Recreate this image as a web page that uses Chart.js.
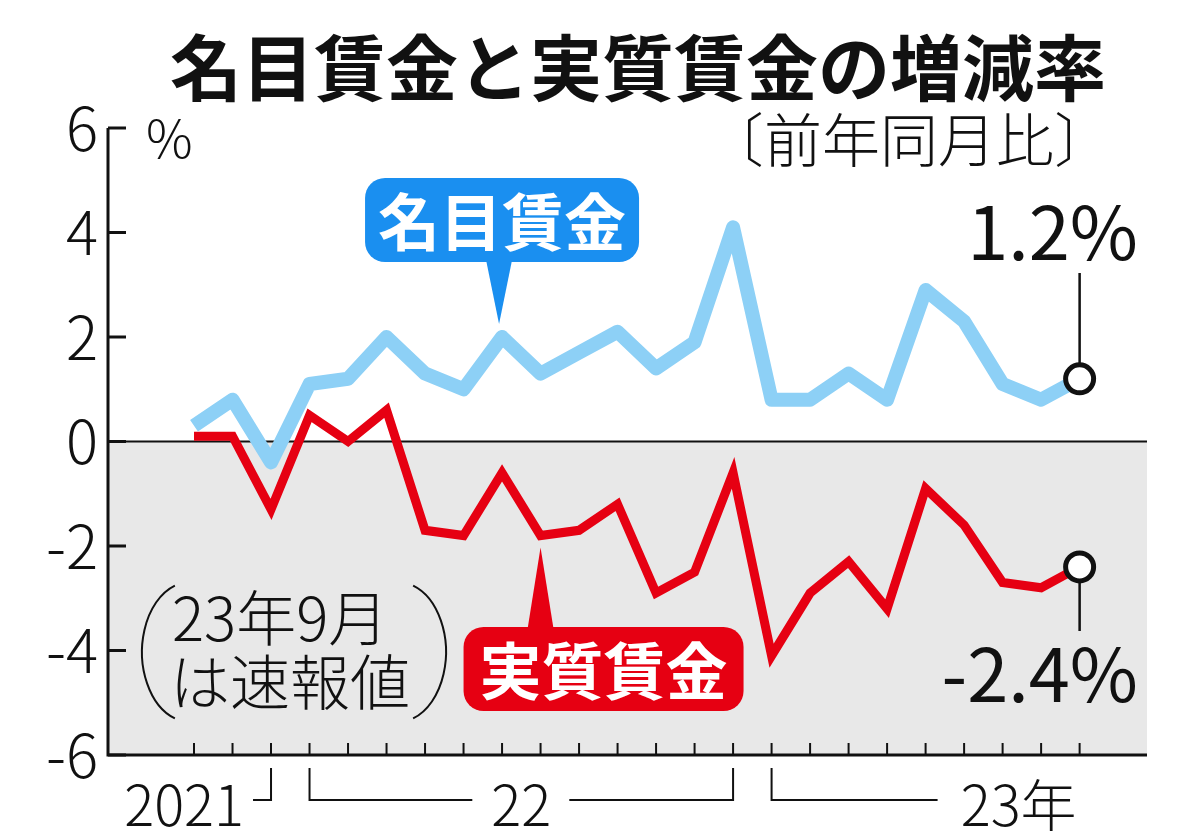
<!DOCTYPE html>
<html lang="ja">
<head>
<meta charset="utf-8">
<title>名目賃金と実質賃金の増減率</title>
<script src="https://cdn.jsdelivr.net/npm/chart.js@4.4.0/dist/chart.umd.min.js"></script>
<style>
  html, body { margin: 0; padding: 0; background: #fff; }
  #wrap { width: 1200px; height: 840px; position: relative; }
</style>
</head>
<body>
<div id="wrap"><canvas id="wageChart" width="1200" height="840"></canvas></div>
<script>
const months = ['2021/10', '2021/11', '2021/12',
  '2022/1', '2022/2', '2022/3', '2022/4', '2022/5', '2022/6', '2022/7', '2022/8', '2022/9', '2022/10', '2022/11', '2022/12',
  '2023/1', '2023/2', '2023/3', '2023/4', '2023/5', '2023/6', '2023/7', '2023/8', '2023/9'];
const nominal = [0.3, 0.8, -0.4, 1.1, 1.2, 2.0, 1.3, 1.0, 2.0, 1.3, 1.7, 2.1, 1.4, 1.9, 4.1, 0.8, 0.8, 1.3, 0.8, 2.9, 2.3, 1.1, 0.8, 1.2];
const real = [0.1, 0.1, -1.3, 0.5, 0.0, 0.6, -1.7, -1.8, -0.6, -1.8, -1.7, -1.2, -2.9, -2.5, -0.6, -4.1, -2.9, -2.3, -3.2, -0.9, -1.6, -2.7, -2.8, -2.4];
const yTicks = [6, 4, 2, 0, -2, -4, -6];
const yearLabels = ['2021', '22', '23年'];
const yearStart = [0, 3, 15];
const yearEnd = [2, 14, 23];

const JP = '"Noto Sans CJK JP", "Noto Sans", sans-serif';
const BLUE_LINE = '#8dd0f6';
const BLUE_BOX = '#1a8ff0';
const RED = '#e60012';
const last = months.length - 1;

// 吹き出し(角丸ボックス＋三角)
function bubble(ctx, x, y, w, h, r, color, tipX, tipY, baseX, text) {
  ctx.save();
  ctx.fillStyle = color;
  ctx.beginPath();
  ctx.roundRect(x, y, w, h, r);
  ctx.fill();
  const baseY = tipY < y ? y + 2 : y + h - 2;
  ctx.beginPath();
  ctx.moveTo(baseX - 13, baseY);
  ctx.lineTo(tipX, tipY);
  ctx.lineTo(baseX + 13, baseY);
  ctx.closePath();
  ctx.fill();
  ctx.fillStyle = '#fff';
  ctx.font = 'bold 62px ' + JP;
  ctx.textAlign = 'center';
  ctx.textBaseline = 'middle';
  ctx.fillText(text, x + w / 2, y + h / 2 + 2);
  ctx.restore();
}

const backdrop = {
  id: 'backdrop',
  beforeDatasetsDraw(chart) {
    const { ctx, chartArea: a, scales: { x, y } } = chart;
    const y0 = y.getPixelForValue(0);
    ctx.save();
    // マイナス側の灰色
    ctx.fillStyle = '#e8e8e8';
    ctx.fillRect(a.left, y0, a.right - a.left, a.bottom - y0);

    ctx.strokeStyle = '#111';
    ctx.lineWidth = 2;
    ctx.beginPath();
    ctx.moveTo(a.left, y0);
    ctx.lineTo(a.right, y0);
    ctx.stroke();

    // 軸
    ctx.lineWidth = 3;
    ctx.beginPath();
    ctx.moveTo(a.left, a.top);
    ctx.lineTo(a.left, a.bottom);
    ctx.lineTo(a.right, a.bottom);
    ctx.stroke();

    ctx.font = '300 60px ' + JP;
    ctx.fillStyle = '#111';
    ctx.textAlign = 'right';
    ctx.textBaseline = 'middle';
    yTicks.forEach(t => {
      const py = y.getPixelForValue(t);
      ctx.beginPath();
      ctx.moveTo(a.left, py);
      ctx.lineTo(a.left + 18, py);
      ctx.stroke();
      ctx.fillText(String(t), a.left - 10, py);
    });
    ctx.textAlign = 'left';
    ctx.font = '300 52px ' + JP;
    ctx.fillText('%', a.left + 38, a.top + 10);

    // 月目盛り
    ctx.lineWidth = 2;
    months.forEach((m, i) => {
      const px = x.getPixelForValue(i);
      ctx.beginPath();
      ctx.moveTo(px, a.bottom);
      ctx.lineTo(px, a.bottom - 12);
      ctx.stroke();
    });

    // 年の括り
    const by = a.bottom + 45, ty = a.bottom + 13;
    ctx.font = '300 56px ' + JP;
    ctx.textBaseline = 'middle';
    const x0e = x.getPixelForValue(yearEnd[0]);
    ctx.beginPath();
    ctx.moveTo(x0e, ty); ctx.lineTo(x0e, by); ctx.lineTo(x0e - 18, by);
    ctx.stroke();
    ctx.textAlign = 'right';
    ctx.fillText(yearLabels[0], x0e - 27, by + 5);

    const x1 = x.getPixelForValue(yearStart[1]), x1e = x.getPixelForValue(yearEnd[1]);
    const mid = (x1 + x1e) / 2;
    ctx.beginPath();
    ctx.moveTo(x1, ty); ctx.lineTo(x1, by); ctx.lineTo(mid - 49, by);
    ctx.moveTo(mid + 48, by); ctx.lineTo(x1e, by); ctx.lineTo(x1e, ty);
    ctx.stroke();
    ctx.textAlign = 'center';
    ctx.fillText(yearLabels[1], mid, by + 5);

    const x2 = x.getPixelForValue(yearStart[2]), x2e = x.getPixelForValue(yearEnd[2]);
    ctx.beginPath();
    ctx.moveTo(x2, ty); ctx.lineTo(x2, by); ctx.lineTo(x2 + 166, by);
    ctx.stroke();
    ctx.textAlign = 'right';
    ctx.fillText(yearLabels[2], x2e - 3, by + 5);

    // 最新値への引き出し線
    const lx = x.getPixelForValue(last);
    ctx.lineWidth = 2.5;
    ctx.beginPath();
    ctx.moveTo(lx, a.top + 145);
    ctx.lineTo(lx, y.getPixelForValue(nominal[last]));
    ctx.moveTo(lx, y.getPixelForValue(real[last]));
    ctx.lineTo(lx, y.getPixelForValue(real[last]) + 64);
    ctx.stroke();

    // 注記
    ctx.font = '300 60px ' + JP;
    ctx.textAlign = 'left';
    ctx.fillText('23年9月', 172, 618);
    ctx.fillText('は速報値', 170, 682);
    ctx.lineWidth = 2;
    ctx.beginPath();
    ctx.ellipse(190, 652, 48, 70, 0, Math.PI - 1.25, Math.PI + 1.25);
    ctx.stroke();
    ctx.beginPath();
    ctx.ellipse(398, 652, 48, 70, 0, -1.25, 1.25);
    ctx.stroke();
    ctx.restore();
  },
  afterDatasetsDraw(chart) {
    const { ctx, scales: { x, y } } = chart;
    ctx.save();
    // タイトル
    ctx.fillStyle = '#111';
    ctx.font = 'bold 72px ' + JP;
    ctx.textAlign = 'center';
    ctx.textBaseline = 'middle';
    ctx.fillText('名目賃金と実質賃金の増減率', 638, 68);
    ctx.font = '300 58px ' + JP;
    ctx.textAlign = 'right';
    ctx.fillText('〔前年同月比〕', 1112, 140);

    // 吹き出し
    const bx = x.getPixelForValue(8), by = y.getPixelForValue(nominal[8]) - 13;
    bubble(ctx, bx - 137, 178, 274, 84, 20, BLUE_BOX, bx - 3, by, bx - 3, '名目賃金');
    const rx = x.getPixelForValue(9), ry = y.getPixelForValue(real[9]) + 12;
    bubble(ctx, rx - 77, 627, 280, 84, 20, RED, rx, ry, rx, '実質賃金');

    // 最新値ラベル
    ctx.fillStyle = '#111';
    ctx.font = '400 74px ' + JP;
    ctx.textAlign = 'right';
    ctx.textBaseline = 'alphabetic';
    ctx.fillText(nominal[last].toFixed(1) + '%', 1138, 260);
    ctx.fillText(real[last].toFixed(1) + '%', 1138, 702);
    ctx.restore();
  }
};

const pointR = c => (c.dataIndex === last ? 14 : 0);

new Chart(document.getElementById('wageChart'), {
  type: 'line',
  data: {
    labels: months,
    datasets: [
      {
        label: '名目賃金',
        data: nominal.map((v, i) => ({ x: i, y: v })),
        borderColor: BLUE_LINE,
        borderWidth: 14,
        borderJoinStyle: 'round',
        pointRadius: pointR,
        pointBorderWidth: 5,
        pointBackgroundColor: '#fff',
        pointBorderColor: '#111',
        clip: false
      },
      {
        label: '実質賃金',
        data: real.map((v, i) => ({ x: i, y: v })),
        borderColor: RED,
        borderWidth: 9,
        borderJoinStyle: 'miter',
        pointRadius: pointR,
        pointBorderWidth: 5,
        pointBackgroundColor: '#fff',
        pointBorderColor: '#111',
        clip: false
      }
    ]
  },
  options: {
    responsive: false,
    animation: false,
    devicePixelRatio: 1,
    layout: { padding: { left: 108, right: 53, top: 128, bottom: 85 } },
    plugins: { legend: { display: false }, tooltip: { enabled: false } },
    scales: {
      x: { type: 'linear', min: -2.234, max: 24.75, display: false },
      y: { min: -6, max: 6, display: false }
    }
  },
  plugins: [backdrop]
});
</script>
</body>
</html>
